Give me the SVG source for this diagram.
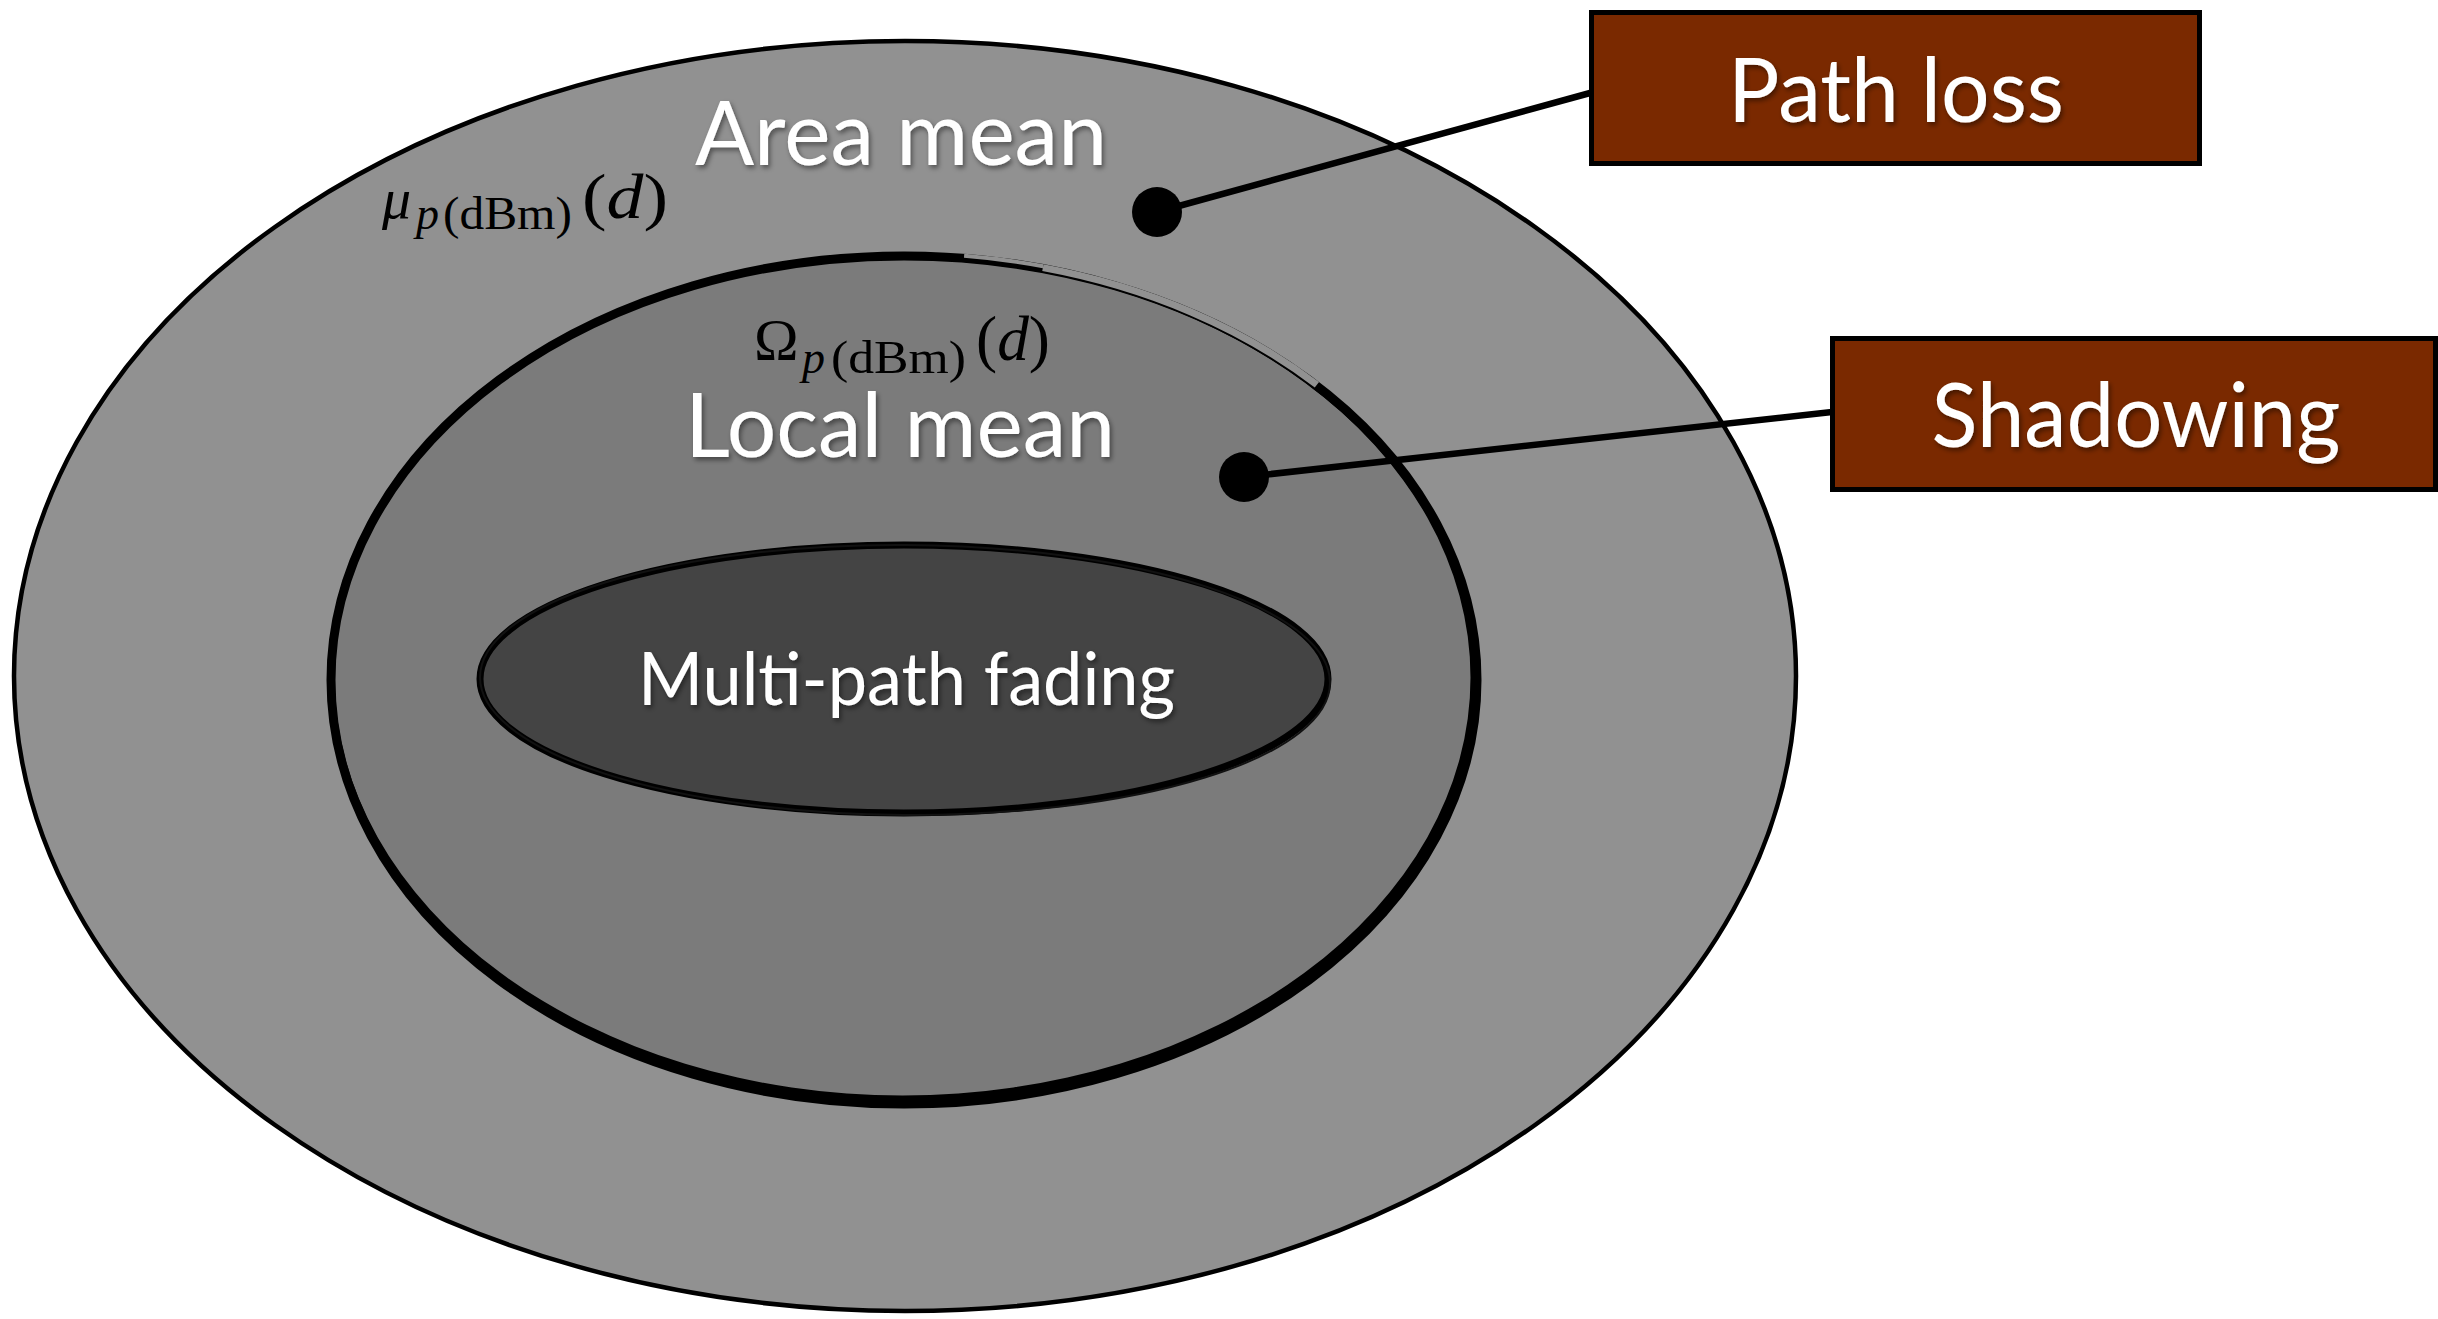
<svg xmlns="http://www.w3.org/2000/svg" width="2438" height="1319" viewBox="0 0 2438 1319">
  <defs>
    <filter id="shadow" x="-10%" y="-20%" width="120%" height="150%">
      <feDropShadow dx="2" dy="3" stdDeviation="2.5" flood-color="#000" flood-opacity="0.45"/>
    </filter>
    <style>
      .label { font-family: Lato, "Open Sans", "Liberation Sans", sans-serif; fill: #ffffff; text-anchor: middle; filter: url(#shadow); }
      .math { font-family: "Liberation Serif", "DejaVu Serif", serif; fill: #000000; }
      .it { font-style: italic; }
      .box { fill: #7a2900; stroke: #000000; stroke-width: 5; }
      .conn { stroke: #000000; stroke-width: 6.5; fill: none; }
      .dot { fill: #000000; }
    </style>
  </defs>
  <rect width="2438" height="1319" fill="#ffffff"/>

  <g id="area-mean">
    <ellipse cx="905" cy="676" rx="891" ry="635" fill="#919191" stroke="#000000" stroke-width="4.5"/>
    <text class="label" x="901" y="165" font-size="90" textLength="412" lengthAdjust="spacingAndGlyphs">Area mean</text>
    <text class="math" font-size="64"><tspan x="382" y="218" font-size="58" class="it">μ</tspan><tspan x="416" y="229" font-size="46" class="it">p</tspan><tspan x="443" y="229" font-size="46" textLength="129" lengthAdjust="spacingAndGlyphs">(dBm)</tspan><tspan x="582" y="218" textLength="86" lengthAdjust="spacingAndGlyphs">(<tspan class="it">d</tspan>)</tspan></text>
  </g>

  <g id="local-mean">
    <ellipse cx="904" cy="680" rx="573" ry="424" fill="#7b7b7b" stroke="#000000" stroke-width="9"/>
    <path d="M331,680 A573,424 0 1 0 1477,680 A573,424 0 1 0 331,680 Z M334.5,677.5 A568,418 0 1 0 1470.5,677.5 A568,418 0 1 0 334.5,677.5 Z" fill="#000000" fill-rule="evenodd"/>
    <path d="M964.1,255.8 A575.5,426.5 0 0 1 1043.2,266.2" fill="none" stroke="#919191" stroke-width="4"/>
    <path d="M1042.9,267.6 A574,425 0 0 1 1316.9,384.8" fill="none" stroke="#919191" stroke-width="7"/>
    <text class="label" x="900" y="457" font-size="90" textLength="430" lengthAdjust="spacingAndGlyphs">Local mean</text>
    <text class="math" font-size="64"><tspan x="754" y="360" font-size="60">Ω</tspan><tspan x="802" y="373" font-size="46" class="it">p</tspan><tspan x="831" y="373" font-size="46" textLength="135" lengthAdjust="spacingAndGlyphs">(dBm)</tspan><tspan x="976" y="360" textLength="74" lengthAdjust="spacingAndGlyphs">(<tspan class="it">d</tspan>)</tspan></text>
  </g>

  <g id="multipath">
    <ellipse cx="904" cy="679" rx="424" ry="134" fill="#444444" stroke="#000000" stroke-width="7"/>
    <ellipse cx="905" cy="680" rx="425" ry="135" fill="none" stroke="#111" stroke-width="2" transform="rotate(0.4 905 680)"/>
    <text class="label" x="906.5" y="705" font-size="74" textLength="537" lengthAdjust="spacingAndGlyphs">Multi-path fading</text>
  </g>

  <g id="connectors">
    <line class="conn" x1="1157" y1="212" x2="1590" y2="93"/>
    <circle class="dot" cx="1157" cy="212" r="25"/>
    <line class="conn" x1="1244" y1="477" x2="1832" y2="412"/>
    <circle class="dot" cx="1244" cy="477" r="25"/>
  </g>

  <g id="path-loss">
    <rect class="box" x="1591.5" y="12.5" width="608" height="151"/>
    <text class="label" x="1896" y="122" font-size="90" textLength="336" lengthAdjust="spacingAndGlyphs">Path loss</text>
  </g>

  <g id="shadowing">
    <rect class="box" x="1832.5" y="338.5" width="603" height="151"/>
    <text class="label" x="2136" y="447" font-size="90" textLength="409" lengthAdjust="spacingAndGlyphs">Shadowing</text>
  </g>
</svg>
